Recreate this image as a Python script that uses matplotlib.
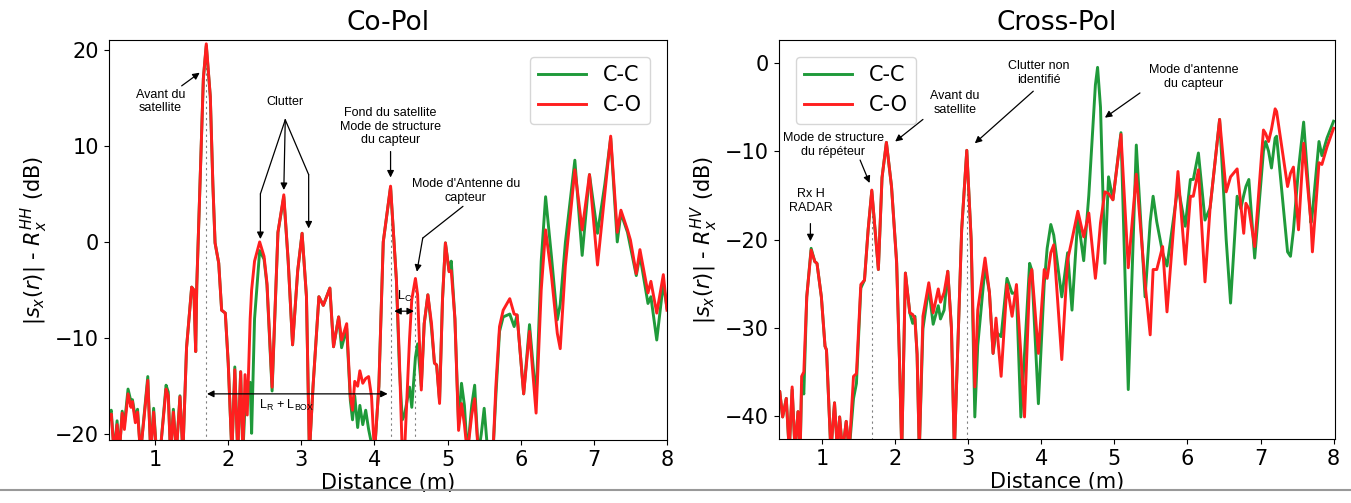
import matplotlib
matplotlib.use("Agg")
import matplotlib.pyplot as plt
from matplotlib.lines import Line2D

# ---- Co-Pol data (distance in m, level in dB) ----
co_dist = [0.37, 0.40, 0.44, 0.48, 0.51, 0.55, 0.58, 0.63, 0.67, 0.69, 0.73, 0.76, 0.80,
           0.90, 0.94, 0.98, 1.02, 1.08, 1.15, 1.18, 1.21, 1.25, 1.29, 1.34, 1.38, 1.43,
           1.50, 1.53, 1.555, 1.57, 1.62, 1.66, 1.70, 1.755, 1.79, 1.82, 1.87, 1.91, 1.96,
           2.00, 2.05, 2.09, 2.13, 2.17, 2.20, 2.23, 2.26, 2.30, 2.32, 2.36, 2.43, 2.49,
           2.53, 2.60, 2.68, 2.76, 2.82, 2.88, 2.95, 3.01, 3.07, 3.11, 3.16, 3.24, 3.30,
           3.39, 3.44, 3.51, 3.55, 3.62, 3.67, 3.70, 3.73, 3.77, 3.80, 3.84, 3.88, 3.92,
           3.96, 4.00, 4.06, 4.12, 4.22, 4.30, 4.34, 4.38, 4.41, 4.48, 4.51, 4.56, 4.59,
           4.64, 4.68, 4.73, 4.78, 4.82, 4.85, 4.89, 4.93, 4.97, 5.02, 5.05, 5.10, 5.15,
           5.19, 5.23, 5.27, 5.33, 5.37, 5.42, 5.46, 5.50, 5.55, 5.62, 5.66, 5.71, 5.76,
           5.85, 5.91, 5.95, 6.04, 6.12, 6.21, 6.28, 6.34, 6.42, 6.50, 6.54, 6.61, 6.74,
           6.84, 6.94, 7.05, 7.15, 7.23, 7.32, 7.37, 7.46, 7.50, 7.58, 7.63, 7.74, 7.78,
           7.86, 7.95, 8.00]
co_co = [-18.5, -17.9, -22, -19.0, -22, -17.8, -19.5, -15.8, -17.2, -16.6, -18.8, -17.7, -22,
         -14.4, -22, -17.7, -22, -21, -15.3, -16.0, -22, -17.7, -22, -16.1, -22, -11.0,
         -4.7, -5.0, -11.4, -4.5, 7.5, 17.0, 20.6, 15.1, 6.0, -0.1, -2.2, -7.1, -7.4,
         -12.6, -22, -13.3, -22, -13.5, -22, -13.8, -18, -8, -5, -2.0, 0.0, -1.5,
         -4.3, -15.1, 1.0, 4.9, -2.0, -10.7, -3.0, 0.9, -5.7, -22, -15.0, -5.7, -6.6,
         -4.8, -10.9, -7.8, -10.2, -8.5, -16.1, -17.5, -14.5, -15.0, -13.4, -14.7, -14.2, -14.0,
         -16.1, -22, -15, 0.0, 5.8, -4, -12, -22, -22, -10, -6.0, -3.8, -5.5,
         -15.4, -8.5, -5.5, -8.5, -12.6, -12.8, -16.8, -6, -0.1, -3.1, -3.0, -8, -19.6,
         -16.8, -19.0, -22, -18, -16.3, -22, -22, -22, -22, -22, -15, -8.8, -7.1,
         -5.9, -7.5, -7.6, -15.8, -9.3, -17.8, -5.0, 1.25, -3.5, -9.5, -11.1, -2.5, 7.5,
         1.25, 7.0, -2.4, 5.0, 11.0, 1.0, 3.3, 1.25, 0.2, -3.3, -0.8, -5.3, -4.1,
         -7.4, -3.4, -7.1]
co_cc = [-18.0, -17.5, -22, -18.6, -22, -17.6, -19.0, -15.3, -16.6, -16.4, -18.3, -17.4, -22,
         -14.0, -22, -17.3, -22, -21, -14.9, -15.6, -22, -17.4, -22, -16.0, -22, -11.0,
         -4.7, -5.0, -11.4, -4.5, 7.5, 17.0, 20.4, 15.1, 6.0, -0.1, -2.2, -7.1, -7.4,
         -12.6, -22, -13.0, -22, -13.5, -22, -17, -15, -14.6, -19.9, -8, -0.9, -1.8,
         -4.5, -15.5, 1.0, 4.7, -2.0, -10.7, -3.0, 0.9, -5.7, -22, -15.0, -5.7, -6.6,
         -4.8, -10.9, -7.8, -11.0, -9.0, -16.5, -18.5, -16.0, -19.3, -17.0, -19.0, -17.5, -19.5,
         -21, -22, -15, 0.0, 5.7, -4, -13, -18.5, -18, -15.1, -17.2, -12.0, -10.6,
         -15.0, -8.5, -5.5, -9, -12.6, -12.8, -16.5, -6, -0.1, -3.0, -2.0, -8, -19.0,
         -14.7, -17.0, -22, -17, -14.9, -22, -20, -17.3, -22, -22, -16, -9.3, -7.8,
         -7.5, -8.8, -7.6, -15.8, -8.6, -16.4, -2.0, 4.7, -1.5, -8.1, -6.5, -0.1, 8.5,
         -1.4, 7.0, 0.9, 6.0, 10.8, 0.0, 3.0, 1.0, -0.5, -3.5, -1.4, -6.4, -5.7,
         -10.2, -4.3, -6.9]

# ---- Cross-Pol data ----
cx_dist = [0.41, 0.42, 0.46, 0.51, 0.55, 0.59, 0.63, 0.67, 0.70, 0.72, 0.75, 0.79, 0.85,
           0.90, 0.93, 0.99, 1.04, 1.06, 1.12, 1.17, 1.21, 1.24, 1.28, 1.33, 1.37, 1.43,
           1.47, 1.53, 1.58, 1.63, 1.68, 1.77, 1.82, 1.88, 1.95, 2.02, 2.06, 2.09, 2.14,
           2.20, 2.24, 2.27, 2.30, 2.33, 2.38, 2.46, 2.52, 2.59, 2.62, 2.67, 2.72, 2.77,
           2.81, 2.91, 2.98, 3.04, 3.09, 3.13, 3.23, 3.29, 3.34, 3.38, 3.45, 3.53, 3.60,
           3.66, 3.72, 3.77, 3.84, 3.87, 3.96, 4.04, 4.08, 4.13, 4.17, 4.28, 4.36, 4.42,
           4.50, 4.58, 4.65, 4.74, 4.77, 4.81, 4.87, 4.92, 4.98, 5.09, 5.19, 5.30, 5.42,
           5.49, 5.53, 5.58, 5.66, 5.72, 5.87, 5.97, 6.04, 6.08, 6.15, 6.24, 6.31, 6.44,
           6.53, 6.59, 6.68, 6.73, 6.77, 6.80, 6.84, 6.92, 7.04, 7.07, 7.11, 7.15, 7.20,
           7.22, 7.37, 7.41, 7.45, 7.52, 7.59, 7.69, 7.71, 7.80, 7.84, 7.91, 8.00]
cx_co = [-37.5, -37.2, -40.1, -38.0, -44, -36.7, -44, -39.5, -44, -35.5, -35.0, -26.5, -21.2,
         -22.5, -22.7, -26.5, -32.1, -32.5, -44, -38.5, -44, -40.1, -44, -40.6, -44, -35.5,
         -35.2, -25.1, -24.6, -18.9, -14.4, -23.4, -13, -9.0, -14, -22.7, -34, -44, -23.8,
         -28.3, -28.5, -29.0, -33, -44, -28.7, -24.9, -28.3, -25.6, -27.1, -26, -23.6, -30,
         -44, -18.9, -9.9, -20, -36.7, -28, -22.1, -26, -32.9, -28.9, -35.5, -25.1, -28.7,
         -25.1, -33, -40.1, -24.5, -23.4, -32.9, -23.4, -24.4, -21.5, -20.6, -33.6, -22.3, -20,
         -16.8, -19.7, -17.0, -24.4, -22, -18.1, -14.6, -14.8, -15.5, -8.1, -23.2, -12.6, -25,
         -30.8, -23.4, -23.4, -20.8, -28.2, -12.3, -22.8, -15.1, -15.1, -12.1, -24.8, -16.4, -6.4,
         -14.6, -12.9, -12.0, -16, -19.3, -15.9, -16.5, -20.8, -7.6, -8.0, -8.9, -7.5, -5.2,
         -5.5, -14.0, -12.5, -11.8, -18.9, -9.1, -18, -21.4, -11.3, -11.5, -9.5, -7.4]
cx_cc = [-37.5, -37.2, -40.1, -38.0, -44, -37.0, -44, -39.5, -44, -36.5, -37.5, -26.5, -21.0,
         -22.5, -22.7, -26.5, -32.1, -32.5, -44, -38.5, -44, -40.1, -44, -40.6, -44, -38.0,
         -36.3, -25.5, -24.6, -18.9, -14.5, -23.4, -13, -9.0, -14, -22.5, -34, -44, -23.8,
         -28.3, -29.5, -28.7, -33, -44, -30.1, -25.5, -29.6, -27.5, -29.0, -28, -23.6, -30,
         -44, -18.9, -9.9, -20, -40.1, -32, -23.1, -26, -32.9, -30.5, -31.0, -24.4, -26.1,
         -26.0, -40.1, -33, -22.7, -23.5, -38.6, -25, -21, -18.3, -19.5, -26.5, -21.5, -28.0,
         -17.5, -22.4, -15, -2.5, -0.5, -5, -22.7, -12.9, -15.5, -7.9, -37.0, -9.3, -26.5,
         -18, -15.1, -18, -21.5, -23.0, -14.0, -18.5, -13.2, -13.2, -10.2, -17.8, -16.4, -6.4,
         -20, -27.2, -15.1, -16.5, -15, -14, -13.2, -22.1, -10, -8.9, -10, -11.9, -8.5,
         -8.3, -21.4, -21.9, -19, -12, -6.7, -18.1, -17, -8.9, -10.5, -8.5, -6.6]

green = "#1f9a3a"
red = "#ff1f1f"
note_font = dict(fontsize=9, family="Liberation Sans", ha="center", va="center")
line_kw = dict(lw=2.1, solid_joinstyle="round")

fig = plt.figure(figsize=(13.51, 5.03), dpi=100)
ax1 = fig.add_axes([0.0807, 0.1252, 0.4130, 0.7953])
ax2 = fig.add_axes([0.5766, 0.1272, 0.4116, 0.7933])


def peak_at(xs, ys, x):
    return ys[xs.index(x)]


def note(ax, text, xy, xytext, style="-|>"):
    ax.annotate(text, xy=xy, xytext=xytext, **note_font,
                arrowprops=dict(arrowstyle=style, color="black", lw=0.9,
                                mutation_scale=10, shrinkA=0, shrinkB=0))


def rule(ax, start, end):
    ax.annotate("", xy=end, xytext=start,
                arrowprops=dict(arrowstyle="-", color="black", lw=0.9, shrinkA=0, shrinkB=0))


# ---------------- Co-Pol ----------------
ax1.plot(co_dist, co_cc, color=green, label="C-C", **line_kw)
ax1.plot(co_dist, co_co, color=red, label="C-O", **line_kw)
for xv in [1.70, 4.22, 4.56]:
    ax1.plot([xv, xv], [-22, peak_at(co_dist, co_co, xv)], ls=(0, (2, 3)),
             color="grey", lw=0.8, zorder=1)
ax1.set_xlim(0.37, 8.0)
ax1.set_ylim(-20.6, 21)
ax1.set_yticks([-20, -10, 0, 10, 20])
ax1.set_xticks(range(1, 9))
ax1.set_title("Co-Pol", fontsize=19, pad=7)
ax1.set_xlabel("Distance (m)", fontsize=15, labelpad=2)
ax1.set_ylabel(r"$|s_x(r)|$ - $R_x^{HH}$ (dB)", fontsize=15)
ax1.tick_params(labelsize=15)
ax1.legend(loc="upper right", fontsize=15, handlelength=2.3, borderaxespad=0.8)

note(ax1, "Avant du\nsatellite", (1.61, 17.6), (1.07, 14.6))
ax1.annotate("Clutter", xy=(2.78, 14.6), **note_font)
rule(ax1, (2.78, 12.7), (2.44, 5.0))
note(ax1, "", (2.44, 0.3), (2.44, 5.0))
note(ax1, "", (2.76, 5.4), (2.78, 12.7))
rule(ax1, (2.78, 12.7), (3.10, 7.0))
note(ax1, "", (3.10, 1.4), (3.10, 7.0))
ax1.annotate("Fond du satellite\nMode de structure\ndu capteur", xy=(4.22, 12.0), **note_font)
note(ax1, "", (4.22, 6.7), (4.22, 9.4))
ax1.annotate("Mode d'Antenne du\ncapteur", xy=(5.25, 5.3), **note_font)
rule(ax1, (5.21, 3.7), (4.66, 0.4))
note(ax1, "", (4.58, -3.1), (4.66, 0.4))
ax1.annotate(r"L$_\mathregular{C}$", xy=(4.41, -5.7), **note_font)
note(ax1, "", (4.54, -7.2), (4.27, -7.2), style="<|-|>")
ax1.annotate(r"L$_\mathregular{R}$ + L$_\mathregular{BOX}$", xy=(2.80, -17.0), **note_font)
note(ax1, "", (4.18, -15.8), (1.71, -15.8), style="<|-|>")

# ---------------- Cross-Pol ----------------
ax2.plot(cx_dist, cx_cc, color=green, label="C-C", **line_kw)
ax2.plot(cx_dist, cx_co, color=red, label="C-O", **line_kw)
for xv in [1.68, 2.98]:
    ax2.plot([xv, xv], [-44, peak_at(cx_dist, cx_co, xv)], ls=(0, (2, 3)),
             color="grey", lw=0.8, zorder=1)
ax2.set_xlim(0.41, 8.02)
ax2.set_ylim(-42.6, 2.6)
ax2.set_yticks([-40, -30, -20, -10, 0])
ax2.set_xticks(range(1, 9))
ax2.set_title("Cross-Pol", fontsize=19, pad=7)
ax2.set_xlabel("Distance (m)", fontsize=15, labelpad=2)
ax2.set_ylabel(r"$|s_x(r)|$ - $R_x^{HV}$ (dB)", fontsize=15)
ax2.tick_params(labelsize=15)
ax2.legend(loc="upper left", fontsize=15, handlelength=2.3, borderaxespad=0.8)

ax2.annotate("Rx H\nRADAR", xy=(0.84, -15.6), **note_font)
note(ax2, "", (0.84, -20.2), (0.84, -18.2))
ax2.annotate("Mode de structure\ndu répéteur", xy=(1.15, -9.3), **note_font)
note(ax2, "", (1.65, -13.6), (1.52, -11.0))
ax2.annotate("Avant du\nsatellite", xy=(2.82, -4.5), **note_font)
note(ax2, "", (2.0, -8.9), (2.38, -6.4))
ax2.annotate("Clutter non\nidentifié", xy=(3.96, -1.1), **note_font)
note(ax2, "", (3.09, -9.1), (3.89, -3.2))
ax2.annotate("Mode d'antenne\ndu capteur", xy=(6.08, -1.6), **note_font)
note(ax2, "", (4.87, -6.2), (5.35, -3.4))

# grey rule at the bottom of the page
fig.add_artist(Line2D([0, 1], [0.026, 0.026], color="#999999", lw=1.5))

fig.savefig("out.png", dpi=100)
